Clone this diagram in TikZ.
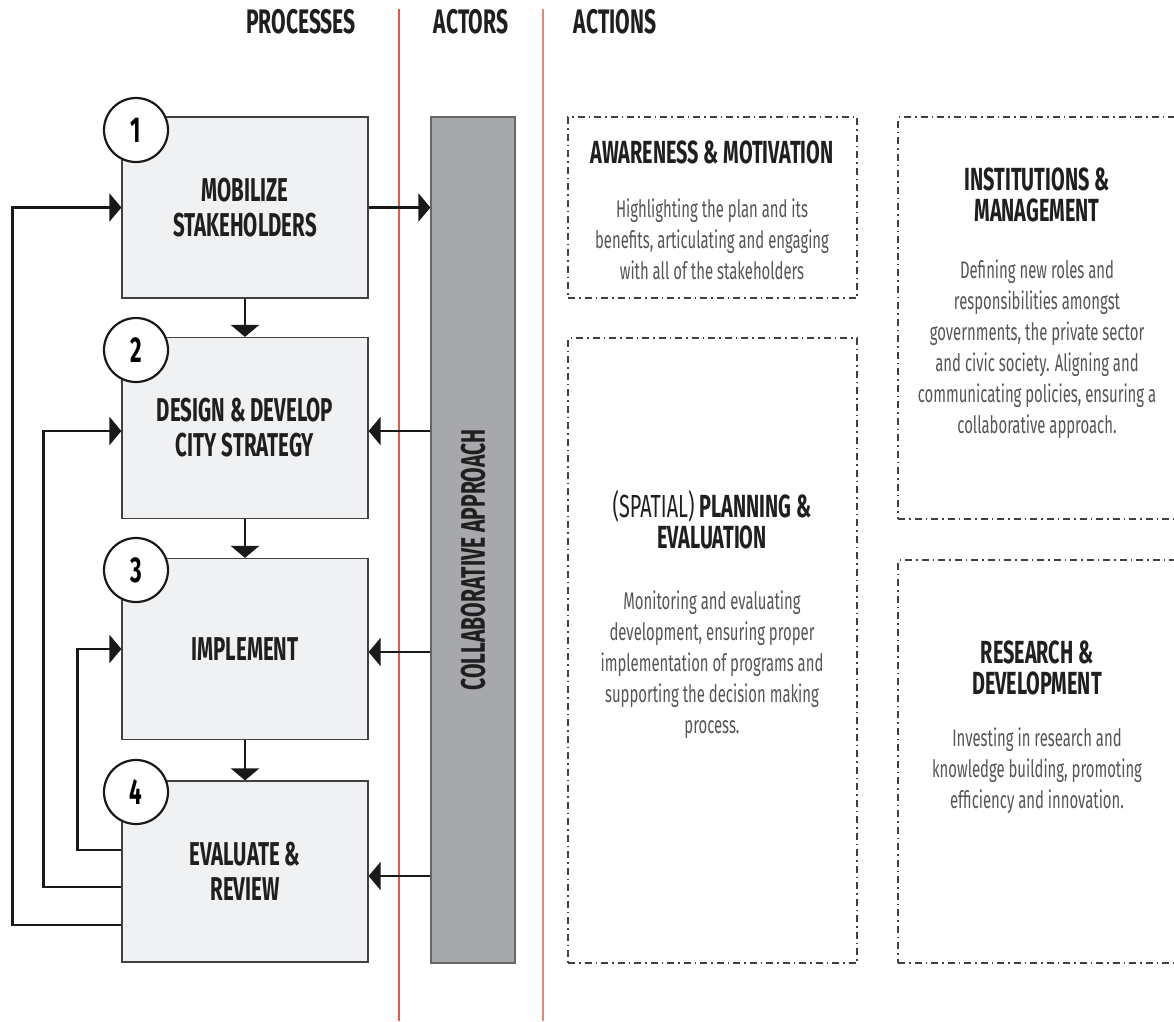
\documentclass[tikz,border=0pt]{standalone}
\usepackage{fontspec}
\setmainfont{Fira Sans}[FakeStretch=0.62]
\usetikzlibrary{arrows.meta}

\definecolor{boxfill}{HTML}{F0F1F3}
\definecolor{barfill}{HTML}{A7A8AB}
\definecolor{sepred}{HTML}{E45A45}
\definecolor{seppink}{HTML}{E5887C}
\definecolor{bodygray}{HTML}{555555}
\definecolor{framegray}{HTML}{404040}

\tikzset{
  procbox/.style={draw=framegray, fill=boxfill, line width=1.2pt, minimum width=246pt,
    minimum height=181pt, inner sep=0pt, align=center, text=black!88,
    font=\bfseries\fontsize{33}{35}\selectfont},
  numcirc/.style={circle, draw=black!90, fill=white, line width=2.2pt, minimum size=64pt,
    inner sep=0pt, font=\bfseries\fontsize{36}{36}\selectfont},
  flow/.style={line width=2.6pt, draw=black!90, -{Triangle[width=28pt,length=12pt]}},
  actbox/.style={draw=framegray, line width=1.3pt, dash pattern=on 7pt off 4pt on 1.5pt off 4pt,
    inner sep=0pt},
  sepline/.style={line width=1.4pt},
  headtxt/.style={font=\bfseries\fontsize{34}{34}\selectfont, text=black!88},
  acttitle/.style={align=center, text=black!88, font=\bfseries\fontsize{32}{31}\selectfont},
  actbody/.style={align=center, text=bodygray, font=\fontsize{24}{31}\selectfont}
}

\begin{document}
\begin{tikzpicture}[x=1pt,y=-1pt]
  \useasboundingbox (0,0) rectangle (1174,1021);

  % column headings and separators
  \node[headtxt] (hproc) at (301,22) {PROCESSES};
  \node[headtxt] (hact) at (471,22) {ACTORS};
  \node[headtxt] (hacn) at (615,22) {ACTIONS};
  \draw[sepline, color=sepred] (399,9) -- (399,1021);
  \draw[sepline, color=seppink] (543,9) -- (543,1021);

  % process boxes
  \node[procbox] (mob) at (245,207.5) {MOBILIZE\\STAKEHOLDERS};
  \node[procbox] (strat) at (245,428) {DESIGN \& DEVELOP\\CITY STRATEGY};
  \node[procbox] (impl) at (245,649) {IMPLEMENT};
  \node[procbox] (eval) at (245,871.5) {EVALUATE \&\\REVIEW};

  \node[numcirc] (n1) at (136,130) {1};
  \node[numcirc] (n2) at (136,350) {2};
  \node[numcirc] (n3) at (136,570) {3};
  \node[numcirc] (n4) at (136,792) {4};

  % actors bar
  \node[draw=black!60, fill=barfill, line width=1.2pt, minimum width=84pt, minimum height=846pt,
    inner sep=0pt] (bar) at (473,540) {};
  \node[rotate=90, headtxt, font=\bfseries\fontsize{34}{34}\selectfont] (barlbl) at (473,560)
    {COLLABORATIVE APPROACH};

  % flow between processes
  \draw[flow] (mob.south) -- (strat.north);
  \draw[flow] (strat.south) -- (impl.north);
  \draw[flow] (impl.south) -- (eval.north);

  \draw[flow] (mob.east) -- (mob.east -| bar.west);
  \draw[flow] ([yshift=-3pt]strat.east -| bar.west) -- ([yshift=-3pt]strat.east);
  \draw[flow] ([yshift=-3pt]impl.east -| bar.west) -- ([yshift=-3pt]impl.east);
  \draw[flow] ([yshift=-4.5pt]eval.east -| bar.west) -- ([yshift=-4.5pt]eval.east);

  % feedback loops
  \draw[flow] ([yshift=21.5pt]eval.west) -- ++(-44,0) |- (impl.west);
  \draw[flow] ([yshift=-15.5pt]eval.west) -- ++(-78,0) |- ([yshift=-3pt]strat.west);
  \draw[flow] ([yshift=-53.5pt]eval.west) -- ++(-109,0) |- (mob.west);

  % action boxes
  \node[actbox, minimum width=289pt, minimum height=181pt] (aware) at (712.5,207.5) {};
  \node[actbox, minimum width=289pt, minimum height=625pt] (plan) at (712.5,650.5) {};
  \node[actbox, minimum width=284pt, minimum height=402pt] (inst) at (1040,318) {};
  \node[actbox, minimum width=284pt, minimum height=403pt] (resd) at (1040,761.5) {};

  \node[acttitle] (awaret) at (712,152) {AWARENESS \& MOTIVATION};
  \node[actbody] (awareb) at (712,239) {Highlighting the plan and its\\benefits, articulating and engaging\\with all of the stakeholders};

  \node[acttitle] (plant) at (712,520) {\mdseries(SPATIAL) \bfseries PLANNING \&\\EVALUATION};
  \node[actbody] (planb) at (712,665) {Monitoring and evaluating\\development, ensuring proper\\implementation of programs and\\supporting the decision making\\process.};

  \node[acttitle] (instt) at (1037,195) {INSTITUTIONS \&\\MANAGEMENT};
  \node[actbody] (instb) at (1037,349) {Defining new roles and\\responsibilities amongst\\governments, the private sector\\and civic society. Aligning and\\communicating policies, ensuring a\\collaborative approach.};

  \node[acttitle] (resdt) at (1037,668) {RESEARCH \&\\DEVELOPMENT};
  \node[actbody] (resdb) at (1037,771) {Investing in research and\\knowledge building, promoting\\efficiency and innovation.};
\end{tikzpicture}
\end{document}
